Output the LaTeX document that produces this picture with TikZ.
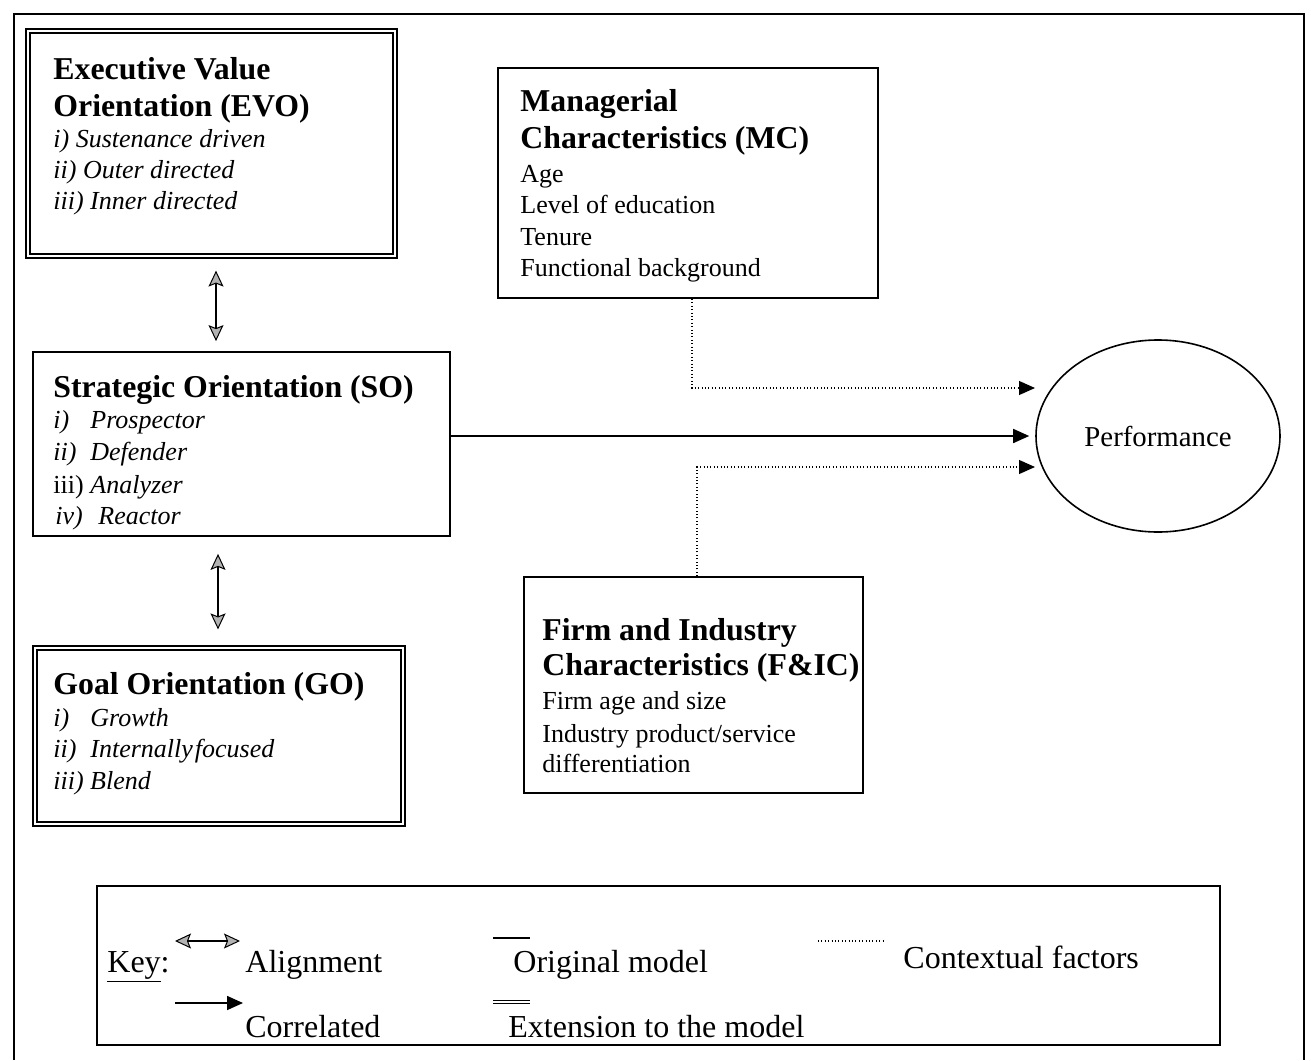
\documentclass[tikz,border=0pt]{standalone}
\usepackage{fontspec}
\setmainfont{Liberation Serif}
\usetikzlibrary{arrows.meta,shapes.geometric,fit}
\begin{document}
\begin{tikzpicture}[x=0.5pt,y=-0.5pt,
  box/.style={draw,line width=0.9pt,inner sep=0pt},
  dbox/.style={draw,double,double distance=1.4pt,line width=0.6pt,inner sep=0pt},
  ttl/.style={anchor=base west,inner sep=0pt,font=\bfseries\fontsize{15.9}{18}\selectfont},
  itm/.style={anchor=base west,inner sep=0pt,font=\fontsize{13}{16}\selectfont},
  keytxt/.style={anchor=base west,inner sep=0pt,font=\fontsize{16}{19}\selectfont},
  link/.style={line width=0.8pt,-{Triangle[length=8pt,width=7pt]}},
  ctx/.style={line width=0.6pt,dash pattern=on 0.5pt off 1.2pt,-{Triangle[length=8pt,width=7pt]}},
  ghead/.tip={Stealth[length=8pt,width=7.5pt,inset=1.5pt,fill=gray!60,line width=0.5pt]},
  alignarrow/.style={line width=0.7pt,ghead-ghead}
]
\useasboundingbox (0,0) rectangle (1311,1060);

% outer frame, running off the lower edge
\draw[line width=0.9pt] (14,1060) -- (14,14) -- (1304,14) -- (1304,1060);

% ---- boxes ----
\node[dbox,fit={(28,31) (395,256)}] (evo) {};
\node[box,fit={(498,68) (878,298)}] (mc) {};
\node[box,fit={(33,352) (450,536)}] (so) {};
\node[dbox,fit={(35,648) (403,824)}] (go) {};
\node[box,fit={(524,577) (863,793)}] (fic) {};
\node[draw,line width=0.8pt,ellipse,minimum width=122pt,minimum height=96pt,inner sep=0pt,
      font=\fontsize{14.4}{17}\selectfont] (perf) at (1158,436) {Performance};

% ---- EVO text ----
\node[ttl] (evoA) at (53,79) {Executive Value};
\node[ttl] (evoB) at (53,116) {Orientation (EVO)};
\node[itm] (evo1) at (53,147) {\textit{i) Sustenance driven}};
\node[itm] (evo2) at (53,178) {\textit{ii) Outer directed}};
\node[itm] (evo3) at (53,209) {\textit{iii) Inner directed}};

% ---- MC text ----
\node[ttl] (mcA) at (520,111) {Managerial};
\node[ttl] (mcB) at (520,148) {Characteristics (MC)};
\node[itm] (mc1) at (520,182) {Age};
\node[itm] (mc2) at (520,213) {Level of education};
\node[itm] (mc3) at (520,245) {Tenure};
\node[itm] (mc4) at (520,276) {Functional background};

% ---- SO text ----
\node[ttl] (soA) at (53,397) {Strategic Orientation (SO)};
\node[itm] (so1) at (53,428) {\textit{\makebox[18.5pt][l]{i)}Prospector}};
\node[itm] (so2) at (53,460) {\textit{\makebox[18.5pt][l]{ii)}Defender}};
\node[itm] (so3) at (53,493) {\makebox[18.5pt][l]{iii)}\textit{Analyzer}};
\node[itm] (so4) at (55,524) {\textit{\makebox[21.5pt][l]{iv)}Reactor}};

% ---- GO text ----
\node[ttl] (goA) at (53,694) {Goal Orientation (GO)};
\node[itm] (go1) at (53,726) {\textit{\makebox[18.5pt][l]{i)}Growth}};
\node[itm] (go2) at (53,757) {\textit{\makebox[18.5pt][l]{ii)}Internally\hspace{1pt}focused}};
\node[itm] (go3) at (53,789) {\textit{iii) Blend}};

% ---- F&IC text ----
\node[ttl] (ficA) at (542,640) {Firm and Industry};
\node[ttl] (ficB) at (542,675) {Characteristics (F\&IC)};
\node[itm] (fic1) at (542,709) {Firm age and size};
\node[itm] (fic2) at (542,742) {Industry product/service};
\node[itm] (fic3) at (542,772) {differentiation};

% ---- connectors ----
\coordinate (ax1) at (216,0);
\coordinate (ax2) at (218,0);
\draw[alignarrow,shorten <=7pt,shorten >=5pt] (evo.south -| ax1) -- (so.north -| ax1);
\draw[alignarrow,shorten <=8.5pt,shorten >=9pt] (so.south -| ax2) -- (go.north -| ax2);

\coordinate (mcx) at (692,0);
\coordinate (ficx) at (697,0);
\coordinate (mctip) at (1035,388);
\coordinate (fictip) at (1035,467);
\draw[ctx] (mc.south -| mcx) |- (mctip);
\draw[ctx] (fic.north -| ficx) |- (fictip);
\draw[link,shorten >=3pt] (so.east |- perf.west) -- (perf.west);

% ---- key ----
\node[box,fit={(97,886) (1220,1045)}] (key) {};
\node[keytxt] (keyK) at (107,972) {\underline{Key}:};
\node[keytxt] (keyA) at (245,972) {Alignment};
\node[keytxt] (keyO) at (513,972) {Original model};
\node[keytxt] (keyC) at (903,968) {Contextual factors};
\node[keytxt] (keyR) at (245,1037) {Correlated};
\node[keytxt] (keyE) at (508,1037) {Extension to the model};

\coordinate (kA1) at (175,941); \coordinate (kA2) at (240,941);
\coordinate (kO1) at (493,938); \coordinate (kO2) at (530,938);
\coordinate (kC1) at (818,941); \coordinate (kC2) at (884,941);
\coordinate (kR1) at (175,1003); \coordinate (kR2) at (243,1003);
\coordinate (kE1) at (493,1002); \coordinate (kE2) at (530,1002);
\draw[alignarrow] (kA1) -- (kA2);
\draw[line width=0.7pt] (kO1) -- (kO2);
\draw[line width=0.6pt,dash pattern=on 0.5pt off 1.2pt] (kC1) -- (kC2);
\draw[link] (kR1) -- (kR2);
\draw[double,double distance=1.2pt,line width=0.5pt] (kE1) -- (kE2);
\end{tikzpicture}
\end{document}
